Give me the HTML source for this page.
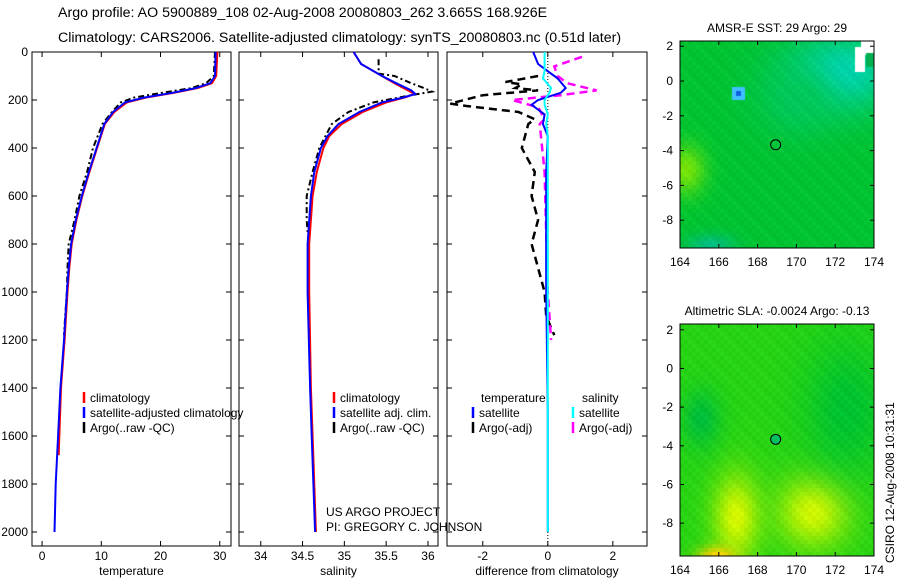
<!DOCTYPE html>
<html><head><meta charset="utf-8">
<style>
body{margin:0;background:#fff;width:900px;height:580px;overflow:hidden;font-family:"Liberation Sans",sans-serif}
svg text{font-family:"Liberation Sans",sans-serif}
canvas{position:absolute}
</style></head>
<body>
<canvas id="m1" width="194" height="207" style="left:680px;top:41px"></canvas>
<canvas id="m2" width="194" height="232" style="left:680px;top:324px"></canvas>
<svg id="s" width="900" height="580" style="position:absolute;left:0;top:0">
<text x="58" y="17" font-size="14.2">Argo profile: AO 5900889_108 02-Aug-2008 20080803_262 3.665S 168.926E</text>
<text x="58" y="42" font-size="14.2">Climatology: CARS2006. Satellite-adjusted climatology: synTS_20080803.nc (0.51d later)</text>
</svg>
<script>
// ---- data ----
const depthClim=[0,100,130,150,170,190,210,250,300,400,500,600,700,800,900,1000,1200,1400,1600,1800,2000];
const tempClim=[29.6,29.4,28.7,26.3,22.3,17.5,14.3,12.2,10.6,9.3,8.0,6.8,5.8,5.0,4.6,4.3,3.8,3.2,2.8,2.4,2.2];
const tempSat=[29.3,29.2,28.4,26.0,22.0,17.2,14.0,12.0,10.5,9.2,7.9,6.7,5.7,4.9,4.5,4.2,3.7,3.1,2.7,2.3,2.1];
const depthArgoT=[0,100,130,150,170,190,210,250,300,400,500,600,700,800,900,1000,1100,1180];
const tempArgo=[29.2,29.0,27.7,25.3,20.3,15.5,13.3,11.8,10.2,8.6,7.6,6.3,5.5,4.5,4.3,4.2,3.9,3.7];
const depthSal=[0,50,70,100,130,160,175,190,210,250,300,350,400,500,600,800,1000,1400,1600,1800,2000];
const salClim=[35.11,35.2,35.3,35.45,35.6,35.76,35.84,35.72,35.5,35.22,34.97,34.82,34.75,34.67,34.62,34.58,34.58,34.6,34.62,34.64,34.66];
const salSat=[35.11,35.2,35.3,35.45,35.62,35.8,35.85,35.7,35.45,35.18,34.93,34.8,34.72,34.64,34.6,34.56,34.56,34.59,34.61,34.63,34.65];
const depthArgoS=[30,90,100,130,150,165,180,210,250,300,400,500,600,700,750];
const salArgo=[35.41,35.41,35.6,35.8,35.95,36.05,35.8,35.35,35.05,34.85,34.7,34.62,34.55,34.55,34.56];
const depthDiff=[0,50,80,110,150,170,200,220,260,300,350,500,1000,1500,2000];
const dTempSat=[-0.45,-0.3,0,0.3,0.55,0.4,-0.3,-0.5,-0.1,-0.15,0,-0.05,-0.05,0,0];
const dSalSat=[-0.1,-0.1,-0.1,-0.15,0.1,0.05,-0.1,-0.1,0,-0.05,0,0,0,0,0];
const depthDT=[100,125,135,150,160,180,215,225,250,280,300,400,500,600,700,800,900,1000,1100,1180];
const dTempArgo=[-0.3,-1.3,-0.8,-1.0,-0.3,-2.0,-3.0,-2.5,-0.9,-0.4,-0.6,-0.8,-0.4,-0.5,-0.3,-0.5,-0.3,-0.1,-0.05,0.2];
const depthDS=[20,60,100,130,160,180,200,230,280,300,500,1000,1200];
const dSalArgo=[1.05,0.2,0.3,0.6,1.5,0.4,-1.1,-0.3,-0.1,-0.25,-0.1,0,0.1];
const yTicks=[0,200,400,600,800,1000,1200,1400,1600,1800,2000];
const tTicks=[0,10,20,30], sTicks=[34,34.5,35,35.5,36], dTicks=[-2,0,2];
const lonTicks=[164,166,168,170,172,174], lat1Ticks=[2,0,-2,-4,-6,-8], lat2Ticks=[2,0,-2,-4,-6,-8];

const NS="http://www.w3.org/2000/svg", svg=document.getElementById('s');
function el(t,a,p){const e=document.createElementNS(NS,t);for(const k in a)e.setAttribute(k,a[k]);(p||svg).appendChild(e);return e;}
const yD=d=>52+d*0.24;
function panel(name,x0,x1,xmin,xmax,xt,xlabel,showY){
  const xs=v=>x0+(v-xmin)/(xmax-xmin)*(x1-x0);
  const g=el('g',{});
  
  
  el('rect',{x:x0,y:52,width:x1-x0,height:494,fill:'none',stroke:'#000','stroke-width':1},g);
  yTicks.forEach(v=>{const y=yD(v);
    el('line',{x1:x0,x2:x0+5,y1:y,y2:y,stroke:'#000'},g);el('line',{x1:x1,x2:x1-5,y1:y,y2:y,stroke:'#000'},g);
    if(showY){const t=el('text',{x:x0-4,y:y+4,'font-size':12,'text-anchor':'end'},g);t.textContent=v;}});
  xt.forEach(v=>{const x=xs(v);
    el('line',{x1:x,x2:x,y1:546,y2:541,stroke:'#000'},g);el('line',{x1:x,x2:x,y1:52,y2:57,stroke:'#000'},g);
    const t=el('text',{x:x,y:560,'font-size':12,'text-anchor':'middle'},g);t.textContent=v;});
  const t=el('text',{x:(x0+x1)/2,y:575,'font-size':12,'text-anchor':'middle'},g);t.textContent=xlabel;
  return {xs,g};
}
function line(p,xv,dv,col,w,dash,name){
  const d=xv.map((v,i)=>(i?'L':'M')+p.xs(v).toFixed(1)+','+yD(dv[i]).toFixed(1)).join('');
  const e=el('path',{d:d,fill:'none',stroke:col,'stroke-width':w,'stroke-dasharray':dash||'none'},p.g);
  
  
}
function legend(p,x,y,items){
  items.forEach((it,i)=>{const yy=y+i*15;
    el('line',{x1:x,x2:x,y1:yy-6,y2:yy+5,stroke:it[1],'stroke-width':2.5},p.g);
    const t=el('text',{x:x+6,y:yy+4,'font-size':12},p.g);t.textContent=it[0];
    
    });
}
// panel 1
const p1=panel('temperature-panel',32,231,-1.7,31.9,tTicks,'temperature',true);
line(p1,tempClim.slice(0,19),depthClim.slice(0,19).map((d,i)=>i==18?1680:d),'#f00',2,null,'temp-climatology');
line(p1,tempArgo,depthArgoT,'#000',2,'6,3,2,3','temp-argo');
line(p1,tempSat,depthClim,'#00f',2,null,'temp-satellite');
legend(p1,84,398,[['climatology','#f00'],['satellite-adjusted climatology','#00f'],['Argo(..raw -QC)','#000']]);
// panel 2
const p2=panel('salinity-panel',239,438,33.74,36.12,sTicks,'salinity',false);
line(p2,salClim,depthSal,'#f00',2,null,'sal-climatology');
line(p2,salArgo,depthArgoS,'#000',2,'6,3,2,3','sal-argo');
line(p2,salSat,depthSal,'#00f',2,null,'sal-satellite');
legend(p2,334,398,[['climatology','#f00'],['satellite adj. clim.','#00f'],['Argo(..raw -QC)','#000']]);
let t=el('text',{x:326,y:516,'font-size':12},p2.g);t.textContent='US ARGO PROJECT';
t=el('text',{x:326,y:531,'font-size':12},p2.g);t.textContent='PI: GREGORY C. JOHNSON';
// panel 3
const p3=panel('difference-panel',447,647,-3.1,3.05,dTicks,'difference from climatology',false);
el('line',{x1:p3.xs(0),x2:p3.xs(0),y1:52,y2:546,stroke:'#000','stroke-dasharray':'1,2'},p3.g);
line(p3,dTempArgo,depthDT,'#000',2.5,'8,5','dtemp-argo');
line(p3,dSalArgo,depthDS,'#f0f',2.5,'8,5','dsal-argo');
line(p3,dTempSat,depthDiff,'#00f',2,null,'dtemp-satellite');
line(p3,dSalSat,depthDiff,'#0ff',2,null,'dsal-satellite');
t=el('text',{x:481,y:402,'font-size':12},p3.g);t.textContent='temperature';
t=el('text',{x:582,y:402,'font-size':12},p3.g);t.textContent='salinity';
legend(p3,473,413,[['satellite','#00f'],['Argo(-adj)','#000']]);
legend(p3,573,413,[['satellite','#0ff'],['Argo(-adj)','#f0f']]);

// ---- maps ----
function mapAxes(name,top,h,latTop,latBot,lt,title){
  const g=el('g',{});
  
  
  const xs=v=>680+(v-164)/10*194, ys=v=>top+(latTop-v)/(latTop-latBot)*h;
  el('rect',{x:680,y:top,width:194,height:h,fill:'none',stroke:'#000'},g);
  lonTicks.forEach(v=>{const x=xs(v);el('line',{x1:x,x2:x,y1:top+h,y2:top+h-4,stroke:'#000'},g);el('line',{x1:x,x2:x,y1:top,y2:top+4,stroke:'#000'},g);
    const t=el('text',{x:x,y:top+h+18,'font-size':12,'text-anchor':'middle'},g);t.textContent=v;});
  lt.forEach(v=>{const y=ys(v);el('line',{x1:680,x2:684,y1:y,y2:y,stroke:'#000'},g);el('line',{x1:874,x2:870,y1:y,y2:y,stroke:'#000'},g);
    const t=el('text',{x:673,y:y+4,'font-size':12,'text-anchor':'end'},g);t.textContent=v;});
  const tt=el('text',{x:777,y:top-9,'font-size':12,'text-anchor':'middle'},g);tt.textContent=title;
  return {xs,ys,g};
}
const a1=mapAxes('sst-map-axes',41,207,2.3,-9.6,lat1Ticks,'AMSR-E SST: 29 Argo: 29');
const a2=mapAxes('sla-map-axes',324,232,2.3,-9.7,lat2Ticks,'Altimetric SLA: -0.0024 Argo: -0.13');
function paint(id,w,h,latTop,latBot,base,blobs){
  const c=document.getElementById(id).getContext('2d'),cs=4;
  for(let y=0;y<h;y+=cs)for(let x=0;x<w;x+=cs){
    const lon=164+x/w*10,lat=latTop-(y/h)*(latTop-latBot);
    let col=base.slice();
    blobs.forEach(b=>{const d2=((lon-b[0])/b[2])**2+((lat-b[1])/b[3])**2;const k=Math.exp(-d2);
      for(let i=0;i<3;i++)col[i]=col[i]*(1-k)+b[4][i]*k;});
    const n=((x*7+y*13)%5)-2;
    c.fillStyle=`rgb(${col[0]+n*2|0},${col[1]+n*3|0},${col[2]+n*2|0})`;c.fillRect(x,y,cs,cs);}
  return c;
}
const c1=paint('m1',194,207,2.3,-9.6,[0,196,50],[[172.3,0.6,2.8,2.2,[0,212,180]],[164.2,-5,1.0,1.4,[120,228,10]],[165.5,-9.3,1.2,0.6,[0,190,130]],[170,-1,2,2,[0,200,90]]]);
c1.fillStyle='#fff';c1.fillRect(181,0,13,14);c1.fillRect(175,6,10,25);c1.fillStyle='#00b050';c1.fillRect(186,12,8,14);
c1.fillStyle='#40c0ff';c1.fillRect(52,46,13,13);c1.fillStyle='#1060e0';c1.fillRect(56,50,5,5);
const c2=paint('m2',194,232,2.3,-9.7,[40,212,20],[[166.8,-7.6,1.2,2.2,[215,248,0]],[170.8,-7.3,1.8,1.8,[220,250,0]],[165.8,-9.6,1.0,0.5,[255,210,0]],[172.5,-2,2.2,3.5,[0,195,50]],[165,-2.5,1,1.5,[0,190,60]]]);
el('circle',{cx:a1.xs(168.93),cy:a1.ys(-3.665),r:5,fill:'none',stroke:'#000'},a1.g);
el('circle',{cx:a2.xs(168.93),cy:a2.ys(-3.665),r:5,fill:'#00c060',stroke:'#000'},a2.g);
const cs=el('text',{x:0,y:0,'font-size':12,transform:'translate(894,563) rotate(-90)'});cs.textContent='CSIRO 12-Aug-2008 10:31:31';


</script>
</body></html>
